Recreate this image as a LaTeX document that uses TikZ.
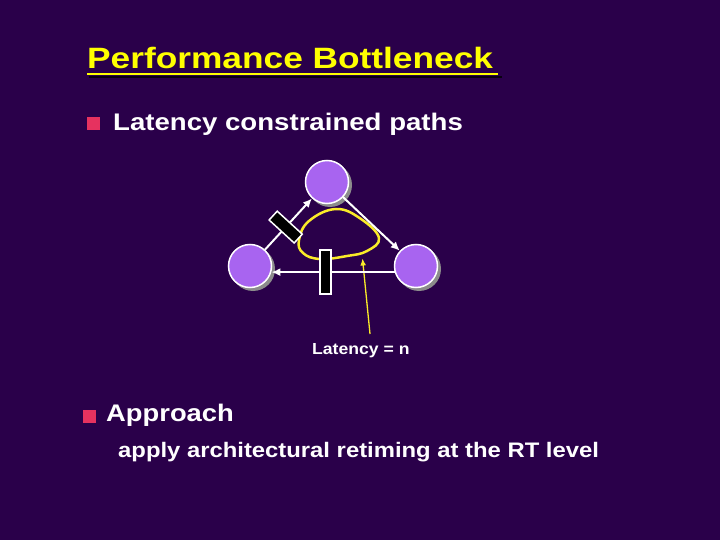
\documentclass[tikz,border=0pt]{standalone}
\usepackage{fontspec}
\setmainfont{Liberation Sans}
\usetikzlibrary{arrows.meta}
\definecolor{bg}{RGB}{42,0,74}
\definecolor{vert}{RGB}{168,100,240}
\definecolor{bul}{RGB}{230,50,95}
\definecolor{ylw}{RGB}{255,255,0}
\definecolor{lyl}{RGB}{250,235,40}
\definecolor{shade}{RGB}{140,140,140}
\begin{document}
\begin{tikzpicture}[x=1pt,y=-1pt,
 txt/.style={anchor=base west, inner sep=0pt, text=white, font=\bfseries},
 vtx/.style={circle, fill=vert, draw=white, line width=1.5pt, minimum size=43pt, inner sep=0pt},
 shd/.style={circle, fill=shade, minimum size=44pt, inner sep=0pt},
 reg/.style={draw=white, fill=black, line width=1.5pt, inner sep=0pt},
 edge/.style={draw=white, line width=2pt, -{Latex[length=9pt,width=8pt]}},
 bulsq/.style={fill=bul, minimum size=12.5pt, inner sep=0pt}]
\fill[bg] (0,0) rectangle (720,540);
\useasboundingbox (0,0) rectangle (720,540);
% title
\draw[black!80!bg, line width=2pt] (89,77) -- (502,77);
\node[txt, text=ylw] (title) at (87,69) {\fontsize{29.4}{30}\selectfont\scalebox{1.2}[1]{Performance Bottleneck}};
\draw[ylw, line width=2pt] ([yshift=-5.5pt]title.base west) -- ([yshift=-5.5pt,xshift=5pt]title.base east);
% bullets
\node[bulsq] (b1) at (93.5,123.5) {};
\node[txt] (t1) at (113,131) {\fontsize{24}{26}\selectfont\scalebox{1.15}[1]{Latency constrained paths}};
\node[bulsq] (b2) at (89.5,416.5) {};
\node[txt] (t2) at (106,421.7) {\fontsize{24}{26}\selectfont\scalebox{1.14}[1]{Approach}};
\node[txt] (t3) at (118,457.7) {\fontsize{21}{23}\selectfont\scalebox{1.135}[1]{apply architectural retiming at the RT level}};
\node[txt] (lbl) at (312,354) {\fontsize{16}{18}\selectfont\scalebox{1.1}[1]{Latency = n}};
% loop
\draw[lyl, line width=2.5pt] plot[smooth cycle, tension=0.7] coordinates {(336,209) (361,219) (379,238) (367,251) (347,256) (320,259) (303,253) (299,240) (309,221)};
% pointer
\coordinate (ptail) at (370,334);
\coordinate (phead) at (362.5,258.5);
\draw[lyl, line width=1.3pt, -{Latex[length=7pt,width=6pt]}] (ptail) -- (phead);
% graph
\node[shd] (sT) at (330,185) {};
\node[shd] (sL) at (253,269) {};
\node[shd] (sR) at (419,269) {};
\node[vtx] (T) at (327,182) {};
\node[vtx] (L) at (250,266) {};
\node[vtx] (R) at (416,266) {};
\draw[edge] (L) -- (T) node[reg, pos=0.44, sloped, minimum width=12pt, minimum height=34pt] (r1) {};
\draw[edge] (T) -- (R);
\draw[edge] (R.196) -- (L.-16) node[reg, pos=0.56, minimum width=11pt, minimum height=44pt] (r2) {};
\end{tikzpicture}
\end{document}
